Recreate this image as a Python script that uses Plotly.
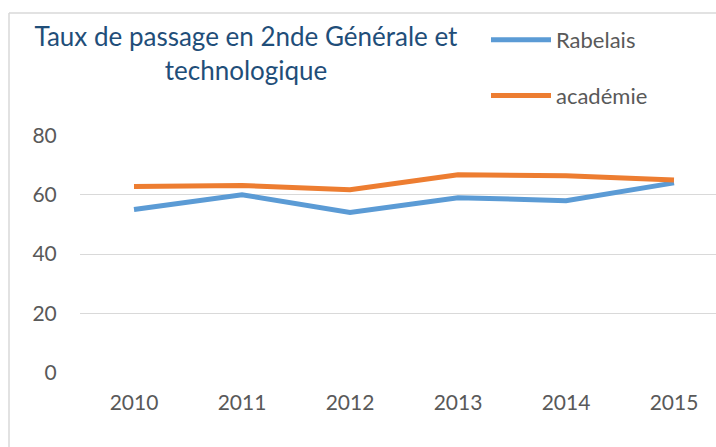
import plotly.graph_objects as go

years = ["2010", "2011", "2012", "2013", "2014", "2015"]
rabelais = [55, 60, 54, 59, 58, 64]
academie = [62.8, 63.1, 61.7, 66.7, 66.4, 65.0]
y_ticks = [0, 20, 40, 60, 80]

FONT = "Lato"
GRAY = "#595959"
BORDER = "#D9D9D9"

fig = go.Figure()
fig.add_trace(go.Scatter(x=years, y=rabelais, name="Rabelais", mode="lines",
                         line=dict(color="#5B9BD5", width=5), legendgroup="a"))
fig.add_trace(go.Scatter(x=years, y=academie, name="académie", mode="lines",
                         line=dict(color="#ED7D31", width=5), legendgroup="b"))

top_y = 1 + (135 - 13) / 238
left_x = (9 - 80) / 636

fig.update_layout(
    width=716, height=447,
    margin=dict(l=80, r=0, t=135, b=74, autoexpand=False),
    paper_bgcolor="white", plot_bgcolor="white",
    font=dict(family=FONT, color=GRAY),
    title=dict(text="Taux de passage en 2nde Générale et<br>technologique",
               font=dict(family=FONT, size=26, color="#1F4E79"),
               xref="container", yref="container",
               x=246/716, xanchor="center", y=1-46/447, yanchor="top"),
    showlegend=True,
    legend=dict(xref="container", yref="container", x=486/716, xanchor="left",
                y=1-19/447, yanchor="top", font=dict(size=22, color=GRAY),
                tracegroupgap=24, itemwidth=60, bgcolor="rgba(0,0,0,0)"),
    xaxis=dict(type="category", range=[-0.5, 5.389], showgrid=False, showline=False,
               zeroline=False, ticks="outside", ticklen=11, tickcolor="rgba(0,0,0,0)",
               tickfont=dict(size=21, color=GRAY)),
    yaxis=dict(range=[-0.15, 80.15], tickvals=y_ticks, showgrid=True,
               gridcolor="#D9D9D9", gridwidth=1, zeroline=False, showline=False,
               ticks="outside", ticklen=18, tickcolor="rgba(0,0,0,0)",
               tickfont=dict(size=21, color=GRAY)),
    shapes=[
        dict(type="line", xref="paper", yref="paper", x0=left_x, x1=1.05,
             y0=top_y, y1=top_y, line=dict(color=BORDER, width=1.5), layer="above"),
        dict(type="line", xref="paper", yref="paper", x0=left_x, x1=left_x,
             y0=top_y, y1=-0.5, line=dict(color=BORDER, width=1.5), layer="above"),
    ],
)

fig.write_html("out.html", config={"displayModeBar": False},
               post_script="document.body.style.margin='0';document.body.style.overflow='hidden';")
